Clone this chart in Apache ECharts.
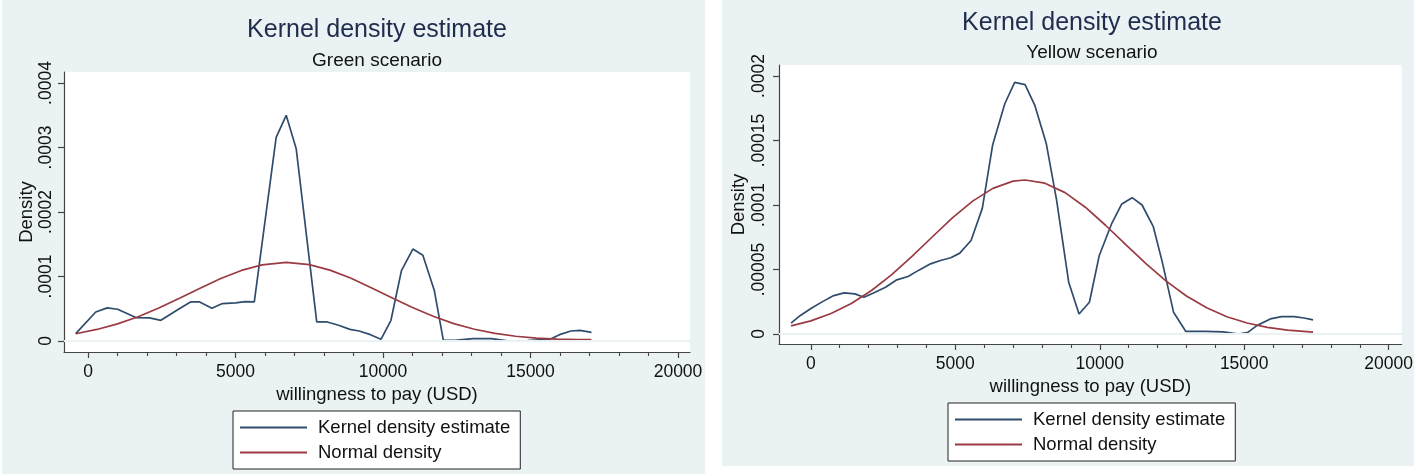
<!DOCTYPE html>
<html>
<head>
<meta charset="utf-8">
<script src="https://cdn.jsdelivr.net/npm/echarts@6/dist/echarts.min.js"></script>
<style>
html,body{margin:0;padding:0;background:#ffffff;}
#chart{width:1416px;height:476px;}
</style>
</head>
<body>
<div id="chart"></div>
<script>
// ---------- data ----------
const mainTitle = 'Kernel density estimate';
const subTitles = ['Green scenario', 'Yellow scenario'];
const seriesNames = ['Kernel density estimate', 'Normal density'];
const xName = 'willingness to pay (USD)';
const yName = 'Density';

const xMajorTicks = [0, 5000, 10000, 15000, 20000];
const xMinorTicks = [1000, 2000, 3000, 4000, 6000, 7000, 8000, 9000, 11000, 12000, 13000, 14000, 16000, 17000, 18000, 19000];
const yTicksGreen = [0, 0.0001, 0.0002, 0.0003, 0.0004];
const yTicksYellow = [0, 0.00005, 0.0001, 0.00015, 0.0002];

// Green scenario – kernel density estimate
const greenKdeX = [-417, 263, 649, 1004, 1622, 2085, 2471, 3012, 3475, 3784, 4201, 4556, 5000, 5328, 5637, 6378, 6718, 7058, 7753, 8108, 8494, 8880, 9189, 9575, 9931, 10270, 10625, 11012, 11351, 11737, 12046, 12432, 13050, 13668, 14286, 14903, 15676, 15985, 16371, 16680, 17066];
const greenKdeY = [0.0000114, 0.000045, 0.0000513, 0.0000492, 0.0000363, 0.0000358, 0.0000321, 0.0000477, 0.0000606, 0.0000606, 0.0000508, 0.000058, 0.0000591, 0.0000611, 0.0000606, 0.0003156, 0.0003499, 0.000298, 0.0000295, 0.0000295, 0.0000244, 0.0000181, 0.0000155, 0.0000098, 0.0000026, 0.0000321, 0.000109, 0.0001425, 0.000133, 0.0000788, 0.000001, 0.000001, 0.0000036, 0.0000036, 0.0000000, 0.0000005, 0.000003, 0.0000098, 0.0000155, 0.0000166, 0.0000135];
// Green scenario – normal density
const greenNormX = [-417, 300, 1000, 1700, 2400, 3100, 3800, 4500, 5200, 5900, 6718, 7500, 8200, 8900, 9600, 10300, 11000, 11700, 12400, 13100, 13800, 14500, 15200, 15900, 16600, 17066];
const greenNormY = [0.0000113, 0.0000179, 0.0000265, 0.0000377, 0.0000511, 0.0000662, 0.0000819, 0.0000969, 0.0001094, 0.0001181, 0.0001218, 0.0001184, 0.0001099, 0.0000976, 0.0000827, 0.000067, 0.0000518, 0.0000383, 0.000027, 0.0000182, 0.0000118, 0.0000074, 0.0000045, 0.000003, 0.0000022, 0.000002];

// Yellow scenario – kernel density estimate
const yellowKdeX = [-685, -374, 16, 405, 794, 1153, 1526, 1838, 2150, 2586, 2975, 3364, 3754, 4143, 4486, 4844, 5156, 5545, 5935, 6293, 6713, 7056, 7414, 7757, 8146, 8505, 8925, 9283, 9642, 9984, 10421, 10763, 11121, 11464, 11854, 12165, 12555, 12975, 13645, 14268, 14813, 15125, 15436, 15903, 16293, 16729, 17072, 17383];
const yellowKdeY = [0.0000085, 0.0000142, 0.00002, 0.0000251, 0.0000298, 0.0000319, 0.0000311, 0.0000285, 0.0000316, 0.0000363, 0.000042, 0.0000446, 0.0000497, 0.0000544, 0.000057, 0.0000591, 0.0000627, 0.0000725, 0.0000974, 0.0001466, 0.0001785, 0.000195, 0.0001933, 0.000177, 0.0001479, 0.000104, 0.0000402, 0.0000155, 0.0000246, 0.0000609, 0.000086, 0.0001008, 0.0001057, 0.0001, 0.0000832, 0.0000557, 0.0000168, 0.0000021, 0.000002, 0.0000016, 0.0000000, 0.0000013, 0.0000065, 0.0000117, 0.0000135, 0.0000135, 0.0000124, 0.0000109];
// Yellow scenario – normal density
const yellowNormX = [-685, 0, 700, 1400, 2100, 2800, 3500, 4200, 4900, 5600, 6300, 7000, 7414, 8100, 8800, 9500, 10200, 10900, 11600, 12300, 13000, 13700, 14400, 15100, 15800, 16500, 17383];
const yellowNormY = [0.0000063, 0.0000102, 0.0000159, 0.0000236, 0.0000337, 0.000046, 0.0000601, 0.0000752, 0.00009, 0.000103, 0.0001129, 0.0001185, 0.0001194, 0.0001169, 0.0001096, 0.0000983, 0.0000843, 0.0000693, 0.0000545, 0.000041, 0.0000295, 0.0000203, 0.0000134, 0.0000085, 0.0000051, 0.000003, 0.0000014];

// ---------- style ----------
const FONT = '"Liberation Sans", Arial, sans-serif';
const KDE_COLOR = '#2f4c6c';
const NORM_COLOR = '#9a3b43';
const PANEL = '#eaf2f3';
const AXIS_COLOR = '#444444';

function pairs(xs, ys) { return xs.map((x, i) => [x, ys[i]]); }
const xFmt = v => String(v);
const yFmt = v => (v === 0 ? '0' : String(v).replace(/^0\./, '.'));

function majorX(gridIndex, min, max, nameGap) {
  return {
    gridIndex, type: 'value', position: 'bottom', min, max,
    name: xName, nameLocation: 'middle', nameGap,
    nameTextStyle: { fontFamily: FONT, fontSize: 18.5, color: '#111' },
    axisLine: { show: true, onZero: false, lineStyle: { color: AXIS_COLOR, width: 1.2 } },
    axisTick: { show: true, customValues: xMajorTicks, length: 6, lineStyle: { color: AXIS_COLOR, width: 1.2 } },
    axisLabel: { show: true, customValues: xMajorTicks, formatter: xFmt, margin: 11, fontFamily: FONT, fontSize: 17.5, color: '#111' },
    splitLine: { show: false }
  };
}
function minorX(gridIndex, min, max) {
  return {
    gridIndex, type: 'value', position: 'bottom', min, max,
    axisLine: { show: false, onZero: false },
    axisTick: { show: true, customValues: xMinorTicks, length: 4, lineStyle: { color: AXIS_COLOR, width: 1.1 } },
    axisLabel: { show: false },
    splitLine: { show: false }
  };
}
function yAx(gridIndex, min, max, ticks, nameGap, labelMargin) {
  return {
    gridIndex, type: 'value', position: 'left', min, max,
    name: yName, nameLocation: 'middle', nameRotate: 90, nameGap,
    nameTextStyle: { fontFamily: FONT, fontSize: 18.5, color: '#111' },
    axisLine: { show: true, onZero: false, lineStyle: { color: AXIS_COLOR, width: 1.2 } },
    axisTick: { show: true, customValues: ticks, length: 6, lineStyle: { color: AXIS_COLOR, width: 1.2 } },
    axisLabel: { show: true, customValues: ticks, formatter: yFmt, rotate: 90, margin: labelMargin, fontFamily: FONT, fontSize: 17.5, color: '#111' },
    splitLine: { show: false }
  };
}
function gridLines(xIdx, yIdx, ticks) {
  return {
    name: 'gridlines', type: 'line', xAxisIndex: xIdx, yAxisIndex: yIdx, data: [], z: 1, silent: true,
    markLine: {
      silent: true, symbol: ['none', 'none'], label: { show: false },
      lineStyle: { color: PANEL, width: 1.6, type: 'solid' },
      emphasis: { disabled: true },
      data: ticks.map(v => ({ yAxis: v }))
    }
  };
}
function lineSeries(name, xIdx, yIdx, data, color) {
  return {
    name, type: 'line', xAxisIndex: xIdx, yAxisIndex: yIdx, data, z: 3,
    symbol: 'none', showSymbol: false, smooth: false, animation: false,
    lineStyle: { color, width: 1.7 }, itemStyle: { color }
  };
}
function legendAt(left, top) {
  return {
    left, top, orient: 'vertical', data: seriesNames,
    icon: 'rect', itemWidth: 67, itemHeight: 2, itemGap: 4,
    padding: [6, 10, 6, 7],
    backgroundColor: '#ffffff', borderColor: '#222222', borderWidth: 1, borderRadius: 0,
    textStyle: { fontFamily: FONT, fontSize: 18.5, color: '#111', padding: [0, 0, 0, 6], lineHeight: 21 },
    selectedMode: false
  };
}

const chart = echarts.init(document.getElementById('chart'), null, { renderer: 'canvas' });
chart.setOption({
  animation: false,
  backgroundColor: '#ffffff',
  graphic: [
    { type: 'rect', z: -100, silent: true, shape: { x: 2, y: 0, width: 703, height: 474 }, style: { fill: PANEL } },
    { type: 'rect', z: -100, silent: true, shape: { x: 722, y: 0, width: 692, height: 466 }, style: { fill: PANEL } }
  ],
  title: [
    { text: mainTitle, left: 377, top: 18, textAlign: 'center', padding: 0, textStyle: { fontFamily: FONT, fontSize: 25, fontWeight: 'normal', color: '#1f2c4d' } },
    { text: subTitles[0], left: 377, top: 51, textAlign: 'center', padding: 0, textStyle: { fontFamily: FONT, fontSize: 19, fontWeight: 'normal', color: '#111' } },
    { text: mainTitle, left: 1092, top: 11, textAlign: 'center', padding: 0, textStyle: { fontFamily: FONT, fontSize: 25, fontWeight: 'normal', color: '#1f2c4d' } },
    { text: subTitles[1], left: 1092, top: 43, textAlign: 'center', padding: 0, textStyle: { fontFamily: FONT, fontSize: 19, fontWeight: 'normal', color: '#111' } }
  ],
  legend: [legendAt(233, 411), legendAt(948, 403)],
  grid: [
    { left: 64, top: 72, width: 626, height: 280, show: true, backgroundColor: '#ffffff', borderWidth: 0, containLabel: false },
    { left: 779, top: 65, width: 626, height: 279, show: true, backgroundColor: '#ffffff', borderWidth: 0, containLabel: false }
  ],
  xAxis: [
    majorX(0, -814, 20407, 31),
    minorX(0, -814, 20407),
    majorX(1, -1102, 20448, 31),
    minorX(1, -1102, 20448)
  ],
  yAxis: [
    yAx(0, -0.00001705, 0.00041705, yTicksGreen, 26, 9),
    yAx(1, -0.00000775, 0.00020853, yTicksYellow, 31, 11)
  ],
  series: [
    gridLines(0, 0, yTicksGreen),
    gridLines(2, 1, yTicksYellow),
    lineSeries(seriesNames[0], 0, 0, pairs(greenKdeX, greenKdeY), KDE_COLOR),
    lineSeries(seriesNames[1], 0, 0, pairs(greenNormX, greenNormY), NORM_COLOR),
    lineSeries(seriesNames[0], 2, 1, pairs(yellowKdeX, yellowKdeY), KDE_COLOR),
    lineSeries(seriesNames[1], 2, 1, pairs(yellowNormX, yellowNormY), NORM_COLOR)
  ]
});
</script>
</body>
</html>
